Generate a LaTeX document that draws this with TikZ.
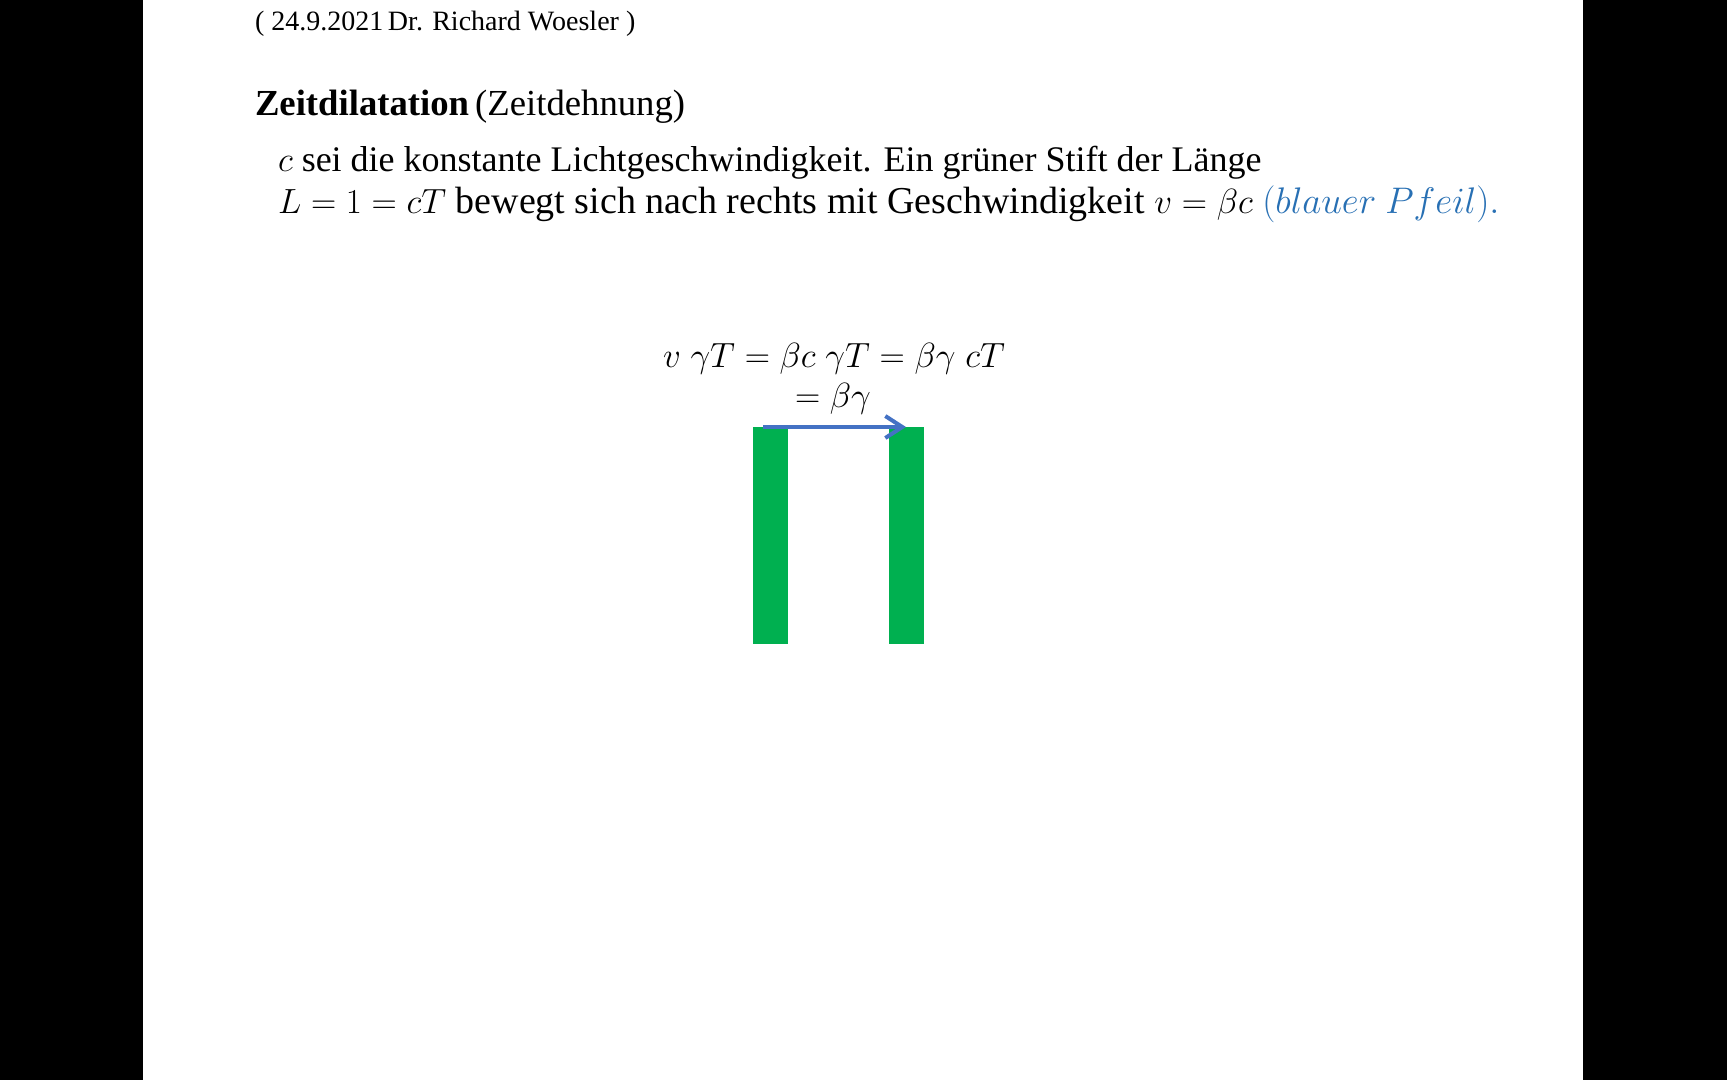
\RequirePackage{fix-cm}
\documentclass[tikz,border=0pt]{standalone}
\usepackage{fontspec}
\setmainfont{Liberation Serif}
\usetikzlibrary{arrows.meta}
\definecolor{pengreen}{HTML}{00B050}
\definecolor{arrowblue}{HTML}{4472C4}
\definecolor{textblue}{RGB}{40,112,180}
\newcommand{\mth}[1]{{\fontsize{35}{40}\selectfont$#1$}}
\newcommand{\mthb}[1]{{\fontsize{37}{42}\selectfont$#1$}}
\tikzset{
  txt/.style={anchor=base west, inner sep=0pt, outer sep=0pt},
  penbar/.style={fill=pengreen, draw=none, anchor=north west, minimum width=35pt, minimum height=216.6pt, inner sep=0pt},
  movearrow/.style={draw=arrowblue, line width=4pt, -{Straight Barb[length=17pt,width=22pt,line width=4pt]}},
}
\begin{document}
\begin{tikzpicture}[x=1pt,y=-1pt]
\useasboundingbox (0,0) rectangle (1727,1080);
\fill[black] (0,0) rectangle (143,1080);
\fill[black] (1583,0) rectangle (1727,1080);
\fill[white] (143,0) rectangle (1583,1080);
\node[txt, font=\fontsize{28}{33}\selectfont] (header) at (255,30) {( 24.9.2021\,Dr. Richard Woesler )};
\node[txt, font=\fontsize{36.7}{42}\selectfont] (title) at (255,115) {\textbf{Zeitdilatation}\,(Zeitdehnung)};
\node[txt, font=\fontsize{36}{42}\selectfont] (line1) at (278,171) {\mth{c} sei die konstante Lichtgeschwindigkeit. Ein grüner Stift der Länge};
\node[txt, font=\fontsize{38}{44}\selectfont] (line2) at (278,213) {\mth{L=1=cT} bewegt sich nach rechts mit Geschwindigkeit \mth{v=\beta c} \textcolor{textblue}{\mthb{(blauer\ Pfeil).}}};
\node[txt, font=\fontsize{35}{40}\selectfont] (eq1) at (663,367) {$v\;\gamma T=\beta c\;\gamma T=\beta\gamma\;cT$};
\node[txt, font=\fontsize{35}{40}\selectfont] (eq2) at (795,407) {$=\beta\gamma$};
\node[penbar] (lbar) at (753,427) {};
\node[penbar] (rbar) at (889,427) {};
\coordinate (astart) at ([xshift=10pt]lbar.north west);
\coordinate (aend) at ([xshift=17pt]rbar.north west);
\draw[movearrow] (astart) -- (aend);
\end{tikzpicture}
\end{document}
